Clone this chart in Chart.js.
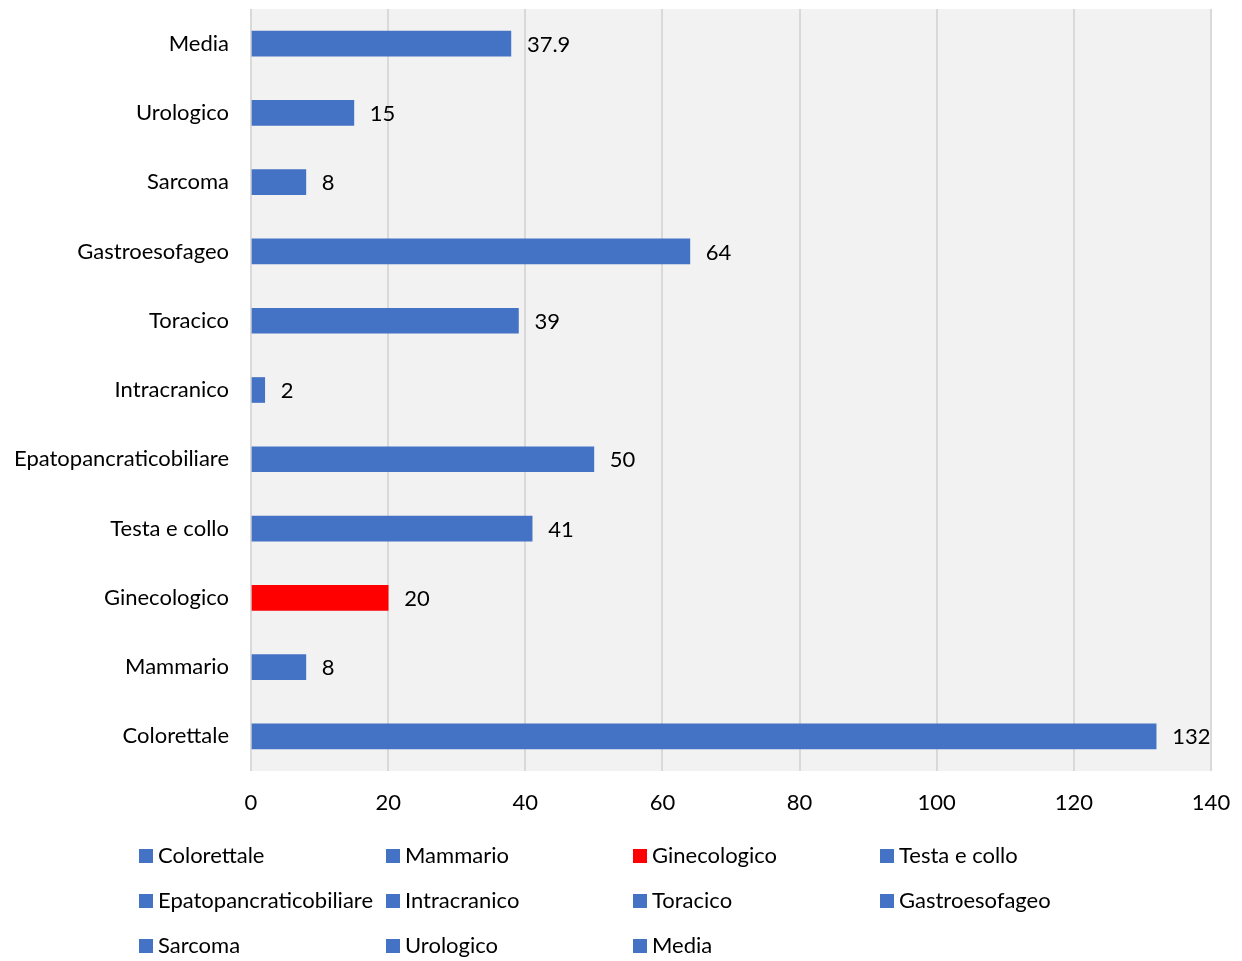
<!DOCTYPE html>
<html>
<head>
<meta charset="utf-8">
<script src="https://cdn.jsdelivr.net/npm/chart.js@4"></script>
<style>
  html, body { margin: 0; padding: 0; background: #fff; }
  #wrap { width: 1242px; height: 961px; }
</style>
</head>
<body>
<div id="wrap"><canvas id="chart" width="1242" height="961"></canvas></div>
<script>
// values, bottom bar first
const categories = ["Colorettale", "Mammario", "Ginecologico", "Testa e collo",
  "Epatopancraticobiliare", "Intracranico", "Toracico", "Gastroesofageo",
  "Sarcoma", "Urologico", "Media"];
const values = [132, 8, 20, 41, 50, 2, 39, 64, 8, 15, 37.9];
const xTicks = [0, 20, 40, 60, 80, 100, 120, 140];
const highlighted = ["Ginecologico"];

const BLUE = "#4472C4";
const RED = "#FF0000";
const FONT = "Lato, 'Open Sans', sans-serif";
const FONT_SIZE = 22;
const barColors = categories.map((c) => (highlighted.includes(c) ? RED : BLUE));

const plotBg = {
  id: "plotBg",
  beforeDraw(chart) {
    const { ctx, chartArea: a } = chart;
    ctx.save();
    ctx.fillStyle = "#F2F2F2";
    ctx.fillRect(a.left, a.top, a.right - a.left, a.bottom - a.top);
    ctx.restore();
  },
};

const valueLabels = {
  id: "valueLabels",
  afterDatasetsDraw(chart) {
    const { ctx } = chart;
    const meta = chart.getDatasetMeta(0);
    ctx.save();
    ctx.font = FONT_SIZE + "px " + FONT;
    ctx.fillStyle = "#000";
    ctx.textAlign = "left";
    ctx.textBaseline = "middle";
    meta.data.forEach((bar, i) => {
      ctx.fillText(String(values[i]), bar.x + 16, bar.y + 1);
    });
    ctx.restore();
  },
};

const gridLegend = {
  id: "gridLegend",
  afterDraw(chart) {
    const { ctx } = chart;
    ctx.save();
    ctx.font = FONT_SIZE + "px " + FONT;
    ctx.textBaseline = "middle";
    ctx.textAlign = "left";
    categories.forEach((c, i) => {
      const x = 139 + (i % 4) * 247;
      const y = 856 + Math.floor(i / 4) * 45;
      ctx.fillStyle = barColors[i];
      ctx.fillRect(x, y - 7, 14, 14);
      ctx.fillStyle = "#000";
      ctx.fillText(c, x + 19, y);
    });
    ctx.restore();
  },
};

new Chart(document.getElementById("chart"), {
  type: "bar",
  data: {
    labels: categories,
    datasets: [
      {
        data: values,
        backgroundColor: barColors,
        barThickness: 25,
      },
    ],
  },
  options: {
    indexAxis: "y",
    responsive: false,
    animation: false,
    layout: { padding: { top: 9, right: 31, bottom: 140, left: 0 } },
    plugins: {
      legend: { display: false },
      tooltip: { enabled: false },
    },
    scales: {
      x: {
        min: 0,
        max: 140,
        afterBuildTicks: (scale) => {
          scale.ticks = xTicks.map((v) => ({ value: v }));
        },
        grid: { color: "#D9D9D9", lineWidth: 2, drawTicks: false },
        border: { display: false },
        ticks: { padding: 19, color: "#000", font: { family: FONT, size: FONT_SIZE } },
        afterFit: (scale) => {
          scale.height = 50;
          scale.paddingLeft = 0;
          scale.paddingRight = 0;
        },
      },
      y: {
        reverse: true,
        grid: { display: false, drawTicks: false },
        border: { display: false },
        ticks: { padding: 22, color: "#000", font: { family: FONT, size: FONT_SIZE } },
        afterFit: (scale) => {
          scale.width = 251;
          scale.paddingTop = 0;
          scale.paddingBottom = 0;
        },
      },
    },
  },
  plugins: [plotBg, valueLabels, gridLegend],
});
</script>
</body>
</html>
